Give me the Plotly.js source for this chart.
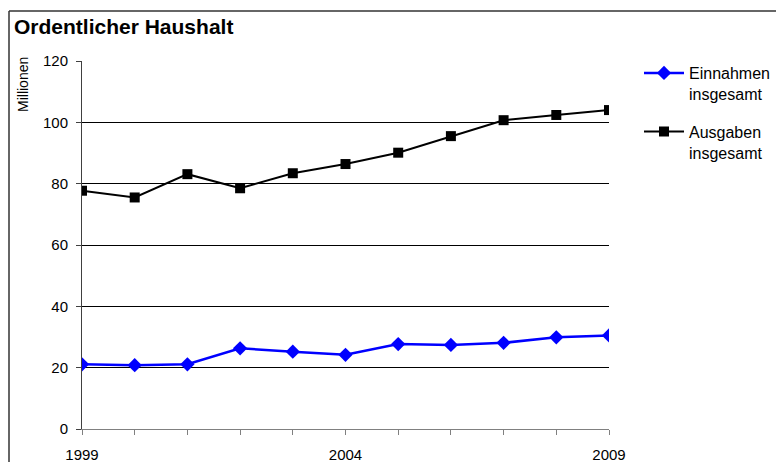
<!DOCTYPE html>
<html>
<head>
<meta charset="utf-8">
<script src="https://cdn.plot.ly/plotly-3.0.1.min.js"></script>
<style>
  html, body { margin: 0; padding: 0; background: #fff; }
  #chart { width: 776px; height: 462px; }
</style>
</head>
<body>
<div id="chart"></div>
<script>
const years = [1999, 2000, 2001, 2002, 2003, 2004, 2005, 2006, 2007, 2008, 2009];
const einnahmen = [21.1, 20.8, 21.1, 26.3, 25.2, 24.2, 27.7, 27.4, 28.1, 29.9, 30.5];
const ausgaben = [77.7, 75.5, 83.1, 78.5, 83.4, 86.4, 90.1, 95.5, 100.7, 102.4, 104.0];
const xTickLabels = ["1999", "", "", "", "", "2004", "", "", "", "", "2009"];
const yTickVals = [0, 20, 40, 60, 80, 100, 120];
const seriesNames = ["Einnahmen<br>insgesamt", "Ausgaben<br>insgesamt"];

const font = "Liberation Sans, Arial, sans-serif";

const traces = [
  {
    x: years, y: einnahmen, name: seriesNames[0], legendgroup: "a",
    mode: "lines+markers", type: "scatter",
    line: { color: "#0000FF", width: 2.5 },
    marker: { symbol: "diamond", size: 11, color: "#0000FF" }
  },
  {
    x: years, y: ausgaben, name: seriesNames[1], legendgroup: "b",
    mode: "lines+markers", type: "scatter",
    line: { color: "#000000", width: 2 },
    marker: { symbol: "square", size: 10, color: "#000000" }
  }
];

const L = 82, R = 167, T = 61, B = 33;
const pw = 776 - L - R, ph = 462 - T - B;
const bx = (9 - L) / pw, by = 1 + (T - 11) / ph;

const layout = {
  width: 776, height: 462,
  margin: { l: L, r: R, t: T, b: B, pad: 0, autoexpand: false },
  paper_bgcolor: "#fff", plot_bgcolor: "#fff",
  font: { family: font, size: 15, color: "#000" },
  title: {
    text: "<b>Ordentlicher Haushalt</b>",
    font: { family: font, size: 21, color: "#000" },
    x: 14 / 776, xanchor: "left", xref: "container",
    y: 1 - 34 / 462, yanchor: "bottom", yref: "container"
  },
  xaxis: {
    range: [1999, 2009],
    tickmode: "array", tickvals: years, ticktext: xTickLabels,
    ticks: "outside", ticklen: 5, tickcolor: "#808080", tickwidth: 1,
    ticklabelstandoff: 7,
    showline: true, linecolor: "#808080", linewidth: 1,
    showgrid: false, zeroline: false,
    tickfont: { family: font, size: 15, color: "#000" }
  },
  yaxis: {
    range: [0, 120],
    tickmode: "array", tickvals: yTickVals,
    ticks: "outside", ticklen: 5, tickcolor: "#404040", tickwidth: 1,
    ticklabelstandoff: 5,
    showline: true, linecolor: "#404040", linewidth: 1,
    showgrid: true, gridcolor: "#000", gridwidth: 1,
    zeroline: false,
    tickfont: { family: font, size: 15, color: "#000" }
  },
  annotations: [
    {
      text: "Millionen", xref: "paper", yref: "paper",
      x: (23 - L) / pw, y: 1 - (85 - T) / ph,
      xanchor: "center", yanchor: "middle", textangle: -90, showarrow: false,
      font: { family: font, size: 14, color: "#000" }
    }
  ],
  legend: {
    x: 1 + (639 - 609) / pw, xanchor: "left",
    y: 1 - (56 - T) / ph, yanchor: "top",
    valign: "top",
    bgcolor: "rgba(0,0,0,0)",
    font: { family: font, size: 16, color: "#000" },
    itemwidth: 40, tracegroupgap: 14
  },
  showlegend: true,
  shapes: [
    { type: "line", xref: "paper", yref: "paper", x0: bx, x1: bx, y0: -0.2, y1: by, line: { color: "#333", width: 1.5 } },
    { type: "line", xref: "paper", yref: "paper", x0: bx, x1: 1.5, y0: by, y1: by, line: { color: "#333", width: 1.5 } }
  ]
};

Plotly.newPlot("chart", traces, layout, { displayModeBar: false, staticPlot: true });
</script>
</body>
</html>
